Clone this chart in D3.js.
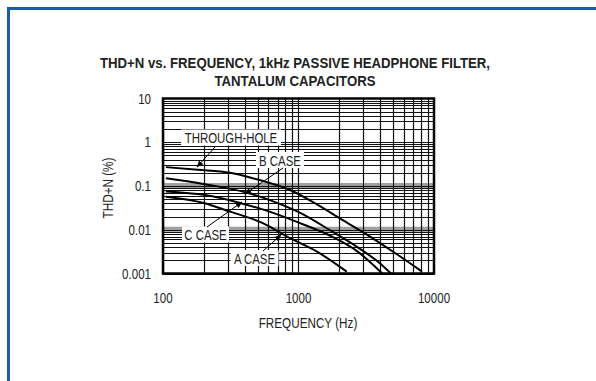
<!DOCTYPE html>
<html>
<head>
<meta charset="utf-8">
<script src="https://cdn.jsdelivr.net/npm/d3@7"></script>
<style>
  body { margin: 0; background: #fff; }
  svg { display: block; }
  text { font-family: "Liberation Sans", Arial, sans-serif; fill: #222; }
</style>
</head>
<body>
<div id="chart"></div>
<script>
// values
const thFreq = [105, 180, 312, 446, 548, 850, 1330, 2090, 3090, 5190, 8170];
const thVal  = [0.27, 0.235, 0.2, 0.155, 0.13, 0.083, 0.040, 0.017, 0.0083, 0.0029, 0.0011];

const bFreq = [105, 205, 417, 657, 1100, 1730, 2720, 4000, 4820];
const bVal  = [0.15, 0.11, 0.070, 0.044, 0.022, 0.0095, 0.0040, 0.0017, 0.001];

const cFreq = [105, 204, 370, 657, 1100, 1730, 2720, 4150];
const cVal  = [0.075, 0.062, 0.041, 0.024, 0.013, 0.0072, 0.0032, 0.001];

const aFreq = [105, 200, 313, 550, 866, 1360, 2270];
const aVal  = [0.057, 0.041, 0.026, 0.014, 0.0064, 0.0032, 0.0011];

const xTicks = [100, 1000, 10000];
const yTicks = [0.001, 0.01, 0.1, 1, 10];
const yTickLabels = ['0.001', '0.01', '0.1', '1', '10'];

const width = 596, height = 381;
const plot = { left: 163, right: 434, top: 98.5, bottom: 273.5 };

const svg = d3.select('#chart').append('svg')
  .attr('width', width)
  .attr('height', height);

// squeeze a text horizontally to imitate the condensed face of the original
function condense(sel, k) {
  sel.each(function() {
    const w = this.getComputedTextLength();
    d3.select(this)
      .attr('textLength', w * k)
      .attr('lengthAdjust', 'spacingAndGlyphs');
  });
}

// blue frame (top + left)
svg.append('path')
  .attr('d', `M8.5,${height} L8.5,8.5 L${width},8.5`)
  .attr('fill', 'none')
  .attr('stroke', '#1d5ca6')
  .attr('stroke-width', 3);

const x = d3.scaleLog().domain([100, 10000]).range([plot.left, plot.right]);
const y = d3.scaleLog().domain([0.001, 10]).range([plot.bottom, plot.top]);

// grid
const xGrid = [];
for (let d = 100; d < 10000; d *= 10) for (let k = 1; k < 10; k++) xGrid.push(d * k);
const yGrid = [];
for (let d = 0.001; d < 9; d *= 10) for (let k = 1; k < 10; k++) yGrid.push(d * k);

const g = svg.append('g');

// gray bands that show on the 0.1 and 0.01 lines
g.selectAll('.band').data([0.1, 0.01]).enter().append('rect')
  .attr('x', plot.left)
  .attr('width', plot.right - plot.left)
  .attr('y', d => y(d) - 3)
  .attr('height', 5)
  .attr('fill', '#a0a0a0');

g.selectAll('.hgrid').data(yGrid).enter().append('line')
  .attr('x1', plot.left).attr('x2', plot.right)
  .attr('y1', d => Math.round(y(d)) + 0.5).attr('y2', d => Math.round(y(d)) + 0.5)
  .attr('stroke', '#111').attr('stroke-width', 1);

g.selectAll('.vgrid').data(xGrid).enter().append('line')
  .attr('y1', plot.top).attr('y2', plot.bottom)
  .attr('x1', d => Math.round(x(d)) + 0.5).attr('x2', d => Math.round(x(d)) + 0.5)
  .attr('stroke', '#111').attr('stroke-width', 1.2);

// frame of plot
g.append('rect')
  .attr('x', plot.left).attr('y', plot.top)
  .attr('width', plot.right - plot.left).attr('height', plot.bottom - plot.top)
  .attr('fill', 'none').attr('stroke', '#000').attr('stroke-width', 2.5);

// tick labels
svg.selectAll('.ylab').data(yTicks).enter().append('text')
  .attr('x', 151)
  .attr('y', d => y(d) + 5)
  .attr('text-anchor', 'end')
  .attr('font-size', 15)
  .text((d, i) => yTickLabels[i])
  .call(condense, 0.77);

svg.selectAll('.xlab').data(xTicks).enter().append('text')
  .attr('x', d => x(d))
  .attr('y', 303)
  .attr('text-anchor', 'middle')
  .attr('font-size', 15)
  .text(d => d)
  .call(condense, 0.77);

// axis titles
svg.append('text')
  .attr('x', 308).attr('y', 328)
  .attr('text-anchor', 'middle')
  .attr('font-size', 15)
  .text('FREQUENCY (Hz)')
  .call(condense, 0.78);

svg.append('text')
  .attr('transform', 'translate(113,188) rotate(-90)')
  .attr('text-anchor', 'middle')
  .attr('font-size', 15)
  .text('THD+N (%)')
  .call(condense, 0.78);

// title
svg.append('text')
  .attr('x', 295).attr('y', 68)
  .attr('text-anchor', 'middle')
  .attr('font-size', 15).attr('font-weight', 'bold')
  .text('THD+N vs. FREQUENCY, 1kHz PASSIVE HEADPHONE FILTER,')
  .call(condense, 0.88);
svg.append('text')
  .attr('x', 295).attr('y', 86)
  .attr('text-anchor', 'middle')
  .attr('font-size', 15).attr('font-weight', 'bold')
  .text('TANTALUM CAPACITORS')
  .call(condense, 0.88);

// curves
const series = [
  { f: thFreq, v: thVal },
  { f: bFreq, v: bVal },
  { f: cFreq, v: cVal },
  { f: aFreq, v: aVal }
];
const line = d3.line()
  .x(d => x(d[0]))
  .y(d => y(d[1]))
  .curve(d3.curveMonotoneX);

svg.append('clipPath').attr('id', 'plotclip')
  .append('rect')
  .attr('x', plot.left).attr('y', plot.top)
  .attr('width', plot.right - plot.left).attr('height', plot.bottom - plot.top);

svg.append('g').attr('clip-path', 'url(#plotclip)')
  .selectAll('path').data(series).enter().append('path')
  .attr('d', s => line(s.f.map((f, i) => [f, s.v[i]])))
  .attr('fill', 'none')
  .attr('stroke', '#000')
  .attr('stroke-width', 2);

// callout labels: box, text, arrow toward curve
svg.append('defs').append('marker')
  .attr('id', 'arrow')
  .attr('viewBox', '0 -5 10 10')
  .attr('refX', 9).attr('refY', 0)
  .attr('markerWidth', 7).attr('markerHeight', 7)
  .attr('markerUnits', 'userSpaceOnUse')
  .attr('orient', 'auto')
  .append('path')
  .attr('d', 'M0,-4L10,0L0,4Z')
  .attr('fill', '#000');

const callouts = [
  { text: 'THROUGH-HOLE', cx: 231, cy: 137.5, w: 100, from: [215, 147], to: [197, 167] },
  { text: 'B CASE', cx: 280, cy: 160, w: 48, from: [283, 168], to: [245, 194] },
  { text: 'C CASE', cx: 205.5, cy: 234.5, w: 47, from: [207, 227], to: [242, 202] },
  { text: 'A CASE', cx: 254.5, cy: 258, w: 48, from: [263, 251], to: [281, 235] }
];

const co = svg.append('g');
co.selectAll('rect').data(callouts).enter().append('rect')
  .attr('x', d => d.cx - d.w / 2).attr('y', d => d.cy - 8)
  .attr('width', d => d.w).attr('height', 16)
  .attr('fill', '#fff');
co.selectAll('text').data(callouts).enter().append('text')
  .attr('x', d => d.cx).attr('y', d => d.cy + 5.5)
  .attr('text-anchor', 'middle')
  .attr('font-size', 15)
  .text(d => d.text)
  .call(condense, 0.76);
co.selectAll('line').data(callouts).enter().append('line')
  .attr('x1', d => d.from[0]).attr('y1', d => d.from[1])
  .attr('x2', d => d.to[0]).attr('y2', d => d.to[1])
  .attr('stroke', '#000').attr('stroke-width', 1)
  .attr('marker-end', 'url(#arrow)');
</script>
</body>
</html>
